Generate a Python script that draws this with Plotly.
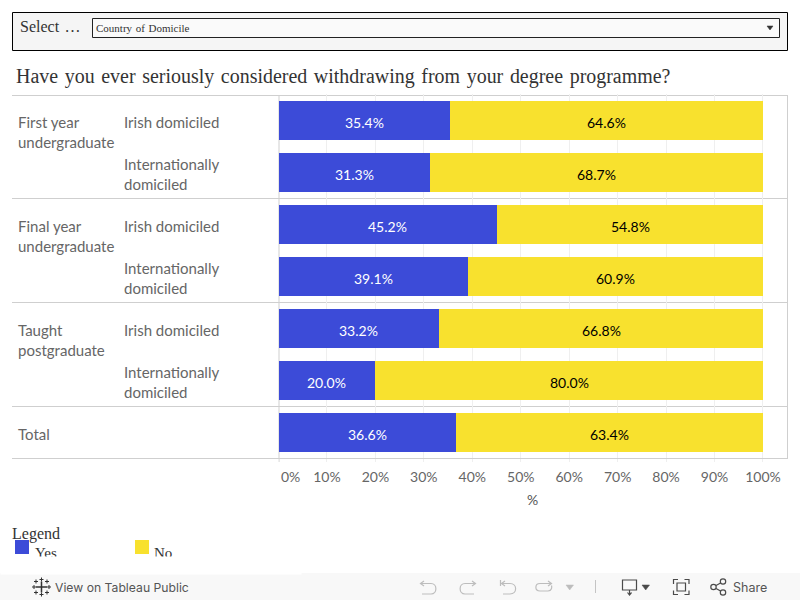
import plotly.graph_objects as go

rows = ["First year undergraduate | Irish", "First year undergraduate | Intl",
        "Final year undergraduate | Irish", "Final year undergraduate | Intl",
        "Taught postgraduate | Irish", "Taught postgraduate | Intl", "Total"]
group_labels = ["First year<br>undergraduate", "Final year<br>undergraduate", "Taught<br>postgraduate", "Total"]
group_rows = [rows[0], rows[2], rows[4], rows[6]]
sub_labels = ["Irish domiciled", "Internationally<br>domiciled"] * 3
yes = [35.4, 31.3, 45.2, 39.1, 33.2, 20.0, 36.6]
no = [64.6, 68.7, 54.8, 60.9, 66.8, 80.0, 63.4]
tick_vals = [0, 10, 20, 30, 40, 50, 60, 70, 80, 90, 100]
title = "Have you ever seriously considered withdrawing from your degree programme?"

W, H = 800, 600
BLUE, YEL = "#3c4bd8", "#f8e12e"
SANS, SERIF = "Lato", "Liberation Serif"
GRID, RULE = "#efefef", "#cfcfcf"

def fx(x): return x / W
def fy(y): return 1 - y / H
def path(*cmds):
    out = []
    for c in cmds:
        if isinstance(c, str):
            out.append(c)
        else:
            out.append(f"{fx(c[0]):.5f},{fy(c[1]):.5f}")
    return " ".join(out)

fig = go.Figure()
for name, vals, col in [("Yes", yes, BLUE), ("No", no, YEL)]:
    fig.add_bar(y=rows, x=vals, name=name, orientation="h", marker=dict(color=col, line_width=0),
                width=0.75, hoverinfo="y+x", showlegend=False)

shapes, ann = [], []
def rect(x0, y0, x1, y1, fill="rgba(0,0,0,0)", line=None, lw=1, layer="below"):
    shapes.append(dict(type="rect", xref="paper", yref="paper", x0=fx(x0), x1=fx(x1), y0=fy(y0), y1=fy(y1),
                       fillcolor=fill, line=dict(color=line or "rgba(0,0,0,0)", width=lw if line else 0), layer=layer))
def hline(x0, x1, y, c=RULE, lw=1):
    shapes.append(dict(type="line", xref="paper", yref="paper", x0=fx(x0), x1=fx(x1), y0=fy(y), y1=fy(y), line=dict(color=c, width=lw), layer="below"))
def vline(x, y0, y1, c=RULE, lw=1):
    shapes.append(dict(type="line", xref="paper", yref="paper", x0=fx(x), x1=fx(x), y0=fy(y0), y1=fy(y1), line=dict(color=c, width=lw), layer="below"))
def icon(d, c="#b5b5b5", lw=1.2, fill="rgba(0,0,0,0)"):
    shapes.append(dict(type="path", xref="paper", yref="paper", path=d, line=dict(color=c, width=lw), fillcolor=fill, layer="above"))
def text(x, y, s, size, font=SERIF, color="#333333", xa="left", ya="middle"):
    ann.append(dict(xref="paper", yref="paper", x=fx(x), y=fy(y), text=s, showarrow=False, xanchor=xa, yanchor=ya,
                    font=dict(family=font, size=size, color=color), borderpad=0, borderwidth=0))

# value labels: the source sets them a little below the bar centre
for r, a, b in zip(rows, yes, no):
    ann.append(dict(xref="x", yref="y", x=a / 2, y=r, yshift=-2, text=f"{a:.1f}%", showarrow=False,
                    font=dict(family=SANS, size=14, color="white")))
    ann.append(dict(xref="x", yref="y", x=a + b / 2, y=r, yshift=-2, text=f"{b:.1f}%", showarrow=False,
                    font=dict(family=SANS, size=14, color="black")))

HAIR = " \u200a"
# filter box
rect(12.5, 12.5, 787.5, 50.5, "#f5f5f5", "#000000", 1)
rect(92.5, 18.5, 779.5, 37.5, "#fafafa", "#222222", 1)
icon(path("M", (767, 26), "L", (773, 26), "L", (770, 30), "Z"), "#333333", 0.5, "#333333")
text(20, 26, "Select\u200a \u2026", 16)
text(96, 28.5, "Country of Domicile".replace(" ", HAIR), 11)
text(16, 76, title.replace(" ", HAIR), 19.95)

# table rules
for y in [95.5, 198.5, 302.5, 406.5, 458.5]:
    hline(12, 787.5, y)
vline(787.5, 95, 459)
vline(279, 95, 462)

for g, r in zip(group_labels, group_rows):
    ann.append(dict(xref="paper", yref="y", x=fx(16), y=r, text=g, showarrow=False, xanchor="left", yanchor="middle",
                    yshift=-12 if "<br>" in g else -2, align="left", font=dict(family=SANS, size=15, color="#666666")))
for s, r in zip(sub_labels, rows):
    ann.append(dict(xref="paper", yref="y", x=fx(122), y=r, text=s, showarrow=False, xanchor="left", yanchor="middle",
                    yshift=-2, align="left", font=dict(family=SANS, size=15, color="#666666")))

# zero label sits right of its tick, as in the source
ann.append(dict(xref="x", yref="paper", x=0, y=fy(476.5), xshift=0, text="0%", showarrow=False, xanchor="left", yanchor="middle",
                font=dict(family=SANS, size=14, color="#666666")))
text(532.5, 499, "%", 14, SANS, "#555555", "center")

# legend
text(12, 534, "Legend", 16)
rect(15, 540, 29, 554, BLUE)
rect(135, 540, 149, 554, YEL)
text(35, 553, "Yes", 15)
text(154, 553, "No", 15)
# the legend frame clips its last line
ann.append(dict(xref="paper", yref="paper", x=0, y=fy(556), text=" ", showarrow=False, xanchor="left", yanchor="top",
                width=300, height=17, bgcolor="white", borderpad=0))

# toolbar
rect(0, 573, 800, 600, "#f8f8f8")
text(55, 587, "View on Tableau Public", 12.2, "Inter", "#555555")
text(733, 587, "Share", 12.5, "Inter", "#555555")
L = "#4a4a4a"
for cx, cy, r, lw in [(41.5, 587, 5.5, 1.5), (41.5, 579.5, 2, 1), (41.5, 594.5, 2, 1), (34, 587, 2, 1), (49, 587, 2, 1),
                      (36, 581.5, 2, 1), (47, 581.5, 2, 1), (36, 592.5, 2, 1), (47, 592.5, 2, 1)]:
    icon(path("M", (cx - r, cy), "L", (cx + r, cy), "M", (cx, cy - r), "L", (cx, cy + r)), "#333333", lw)
G = "#bdbdbd"
icon(path("M", (424, 581), "L", (420.5, 583.5), "L", (424, 586), "M", (420.5, 583.5), "L", (431, 583.5),
          "C", (437.5, 583.5), (437.5, 594), (431, 594), "L", (422, 594)), G)
icon(path("M", (472, 581), "L", (475.5, 583.5), "L", (472, 586), "M", (475.5, 583.5), "L", (465, 583.5),
          "C", (458.5, 583.5), (458.5, 594), (465, 594), "L", (474, 594)), G)
icon(path("M", (500.5, 580), "L", (500.5, 586), "M", (505, 581), "L", (501.5, 583.5), "L", (505, 586), "M", (501.5, 583.5), "L", (510, 583.5),
          "C", (517.5, 583.5), (517.5, 594), (510, 594), "L", (503, 594)), G)
icon(path("M", (548, 581), "L", (551.5, 583.5), "L", (548, 586), "M", (551, 583.5), "L", (540, 583.5),
          "C", (534.5, 583.5), (534.5, 591), (540, 591), "L", (548, 591), "C", (552, 591), (552, 587), (551.5, 585.5)), G)
icon(path("M", (566, 585), "L", (573.5, 585), "L", (569.7, 590), "Z"), G, 0.5, G)
vline(595.5, 580, 593, "#c4c4c4")
shapes[-1]["layer"] = "above"
icon(path("M", (629.5, 590), "L", (622.5, 590), "L", (622.5, 580), "L", (636.5, 580), "L", (636.5, 590), "L", (629.5, 590),
          "L", (629.5, 594), "M", (627.5, 592.5), "L", (629.5, 595), "L", (631.5, 592.5)), L)
icon(path("M", (642, 585), "L", (649.5, 585), "L", (645.7, 590), "Z"), L, 0.5, L)
icon(path("M", (673.5, 584), "L", (673.5, 579.5), "L", (678, 579.5), "M", (684.5, 579.5), "L", (689, 579.5), "L", (689, 584),
          "M", (689, 590.5), "L", (689, 594.5), "L", (684.5, 594.5), "M", (678, 594.5), "L", (673.5, 594.5), "L", (673.5, 590.5),
          "M", (677, 583), "L", (685.5, 583), "L", (685.5, 591), "L", (677, 591), "Z"), L)
for cx, cy in [(713.5, 587), (723, 581.5), (723, 592.5)]:
    icon(path("M", (cx - 2.7, cy), "C", (cx - 2.7, cy - 3.6), (cx + 2.7, cy - 3.6), (cx + 2.7, cy),
              "C", (cx + 2.7, cy + 3.6), (cx - 2.7, cy + 3.6), (cx - 2.7, cy), "Z"), L)
icon(path("M", (716, 585.5), "L", (720.6, 583), "M", (716, 588.5), "L", (720.6, 591)), L)

fig.update_layout(
    width=W, height=H, autosize=False, margin=dict(l=0, r=0, t=0, b=0), barmode="stack",
    paper_bgcolor="white", plot_bgcolor="rgba(0,0,0,0)", shapes=shapes, annotations=ann, bargap=0.25,
    font=dict(family=SANS),
    xaxis=dict(domain=[fx(278.5), fx(787.5)], range=[0, 105.06], tickmode="array", tickvals=tick_vals,
               ticktext=["" if v == 0 else f"{v}%" for v in tick_vals], tickfont=dict(family=SANS, size=14, color="#666666"),
               showgrid=True, gridcolor=GRID, gridwidth=1, zeroline=False, ticks="outside", ticklen=3, tickcolor=GRID, showline=False,
               ticklabelstandoff=3, anchor="y"),
    yaxis=dict(domain=[fy(458), fy(94)], type="category", categoryorder="array", categoryarray=rows, range=[6.5, -0.5],
               showticklabels=False, showgrid=False, zeroline=False, ticks=""),
)
fig.write_html("out.html", config=dict(displayModeBar=False), post_script="document.body.style.margin='0';")
